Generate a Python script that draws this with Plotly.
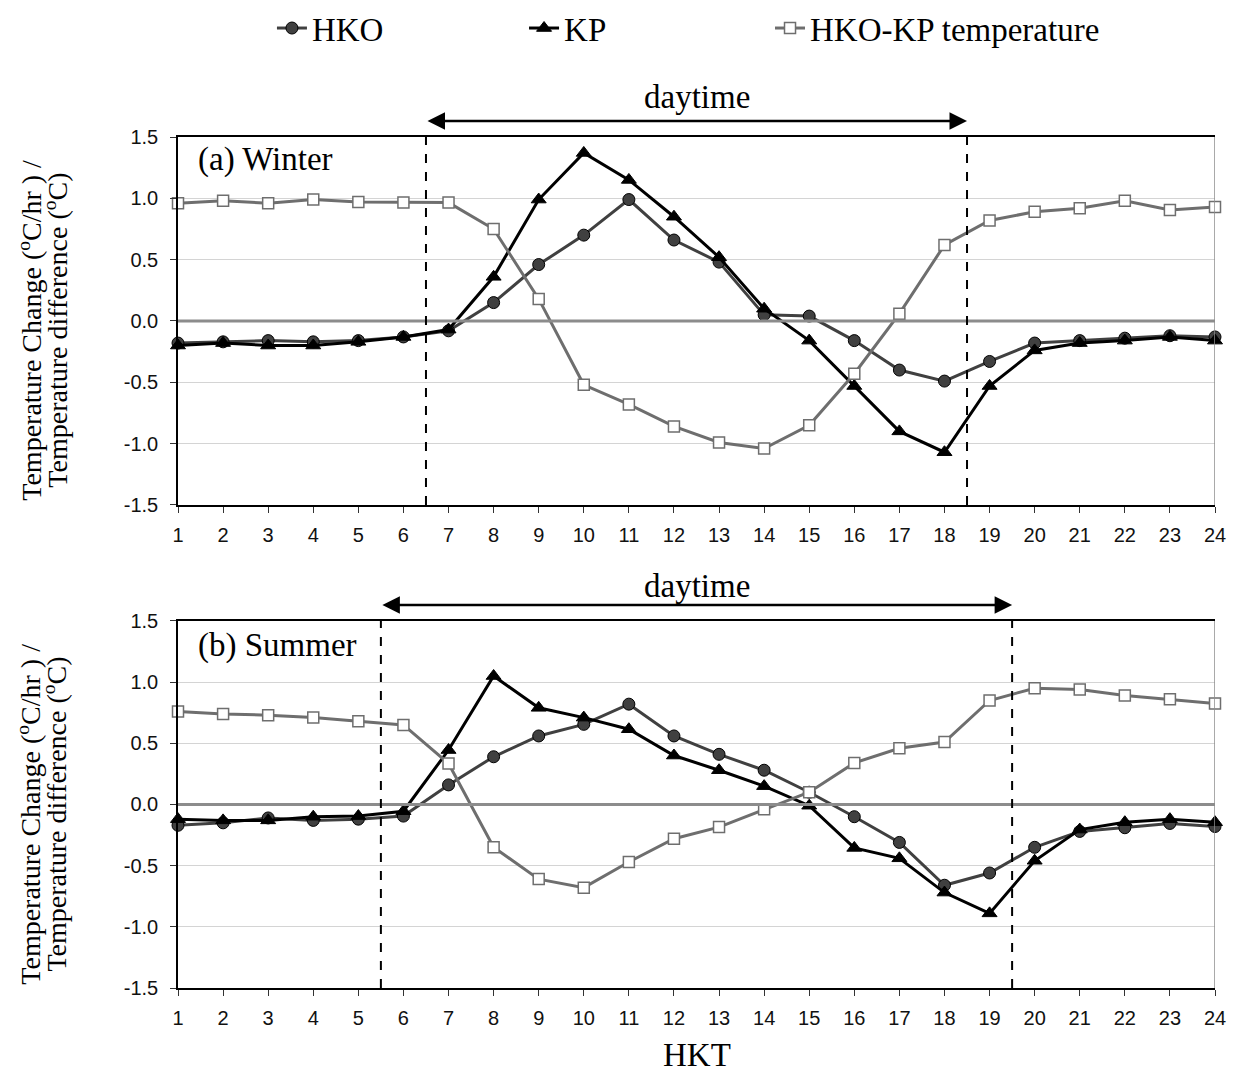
import plotly.graph_objects as go

hours = list(range(1, 25))

# Winter
hko_winter = [-0.18, -0.17, -0.16, -0.17, -0.16, -0.13, -0.08, 0.15, 0.46, 0.70, 0.99, 0.66,
              0.48, 0.05, 0.04, -0.16, -0.40, -0.49, -0.33, -0.18, -0.16, -0.14, -0.12, -0.13]
kp_winter = [-0.20, -0.18, -0.20, -0.20, -0.17, -0.13, -0.07, 0.36, 0.99, 1.37, 1.15, 0.85,
             0.52, 0.10, -0.16, -0.53, -0.90, -1.07, -0.53, -0.24, -0.18, -0.16, -0.13, -0.16]
diff_winter = [0.96, 0.98, 0.96, 0.99, 0.97, 0.965, 0.965, 0.75, 0.18, -0.52, -0.68, -0.86,
               -0.99, -1.04, -0.85, -0.43, 0.06, 0.62, 0.82, 0.89, 0.92, 0.98, 0.905, 0.93]

# Summer
hko_summer = [-0.17, -0.15, -0.11, -0.13, -0.12, -0.095, 0.16, 0.39, 0.56, 0.655, 0.82, 0.56,
              0.41, 0.28, 0.10, -0.10, -0.31, -0.66, -0.56, -0.35, -0.22, -0.19, -0.155, -0.18]
kp_summer = [-0.12, -0.13, -0.13, -0.10, -0.095, -0.055, 0.445, 1.05, 0.79, 0.71, 0.615, 0.40,
             0.28, 0.15, -0.01, -0.355, -0.44, -0.72, -0.89, -0.46, -0.205, -0.145, -0.12, -0.145]
diff_summer = [0.76, 0.74, 0.73, 0.71, 0.68, 0.65, 0.335, -0.35, -0.61, -0.68, -0.47, -0.28,
               -0.185, -0.04, 0.10, 0.34, 0.46, 0.51, 0.85, 0.95, 0.94, 0.89, 0.86, 0.825]

zero_line = [0.0] * 24

y_tickvals = [-1.5, -1.0, -0.5, 0.0, 0.5, 1.0, 1.5]
y_ticktext = ["-1.5", "-1.0", "-0.5", "0.0", "0.5", "1.0", "1.5"]

series_names = ["HKO", "KP", "HKO-KP temperature"]
panel_labels = ["(a) Winter", "(b) Summer"]
daytime_winter = [6.5, 18.5]
daytime_summer = [5.5, 19.5]

SERIF = "Liberation Serif"
SANS = "Liberation Sans"

fig = go.Figure()

def add_panel(hko, kp, diff, xa, ya, showlegend):
    fig.add_trace(go.Scatter(x=hours, y=hko, name=series_names[0], mode="lines+markers",
                             line=dict(color="#404040", width=3),
                             marker=dict(symbol="circle", size=12, color="#404040",
                                         line=dict(color="#000000", width=1)),
                             xaxis=xa, yaxis=ya, showlegend=showlegend, legend="legend",
                             cliponaxis=False))
    fig.add_trace(go.Scatter(x=hours, y=kp, name=series_names[1], mode="lines+markers",
                             line=dict(color="#000000", width=3),
                             marker=dict(symbol="triangle-up", size=13, color="#000000",
                                         line=dict(color="#000000", width=1)),
                             xaxis=xa, yaxis=ya, showlegend=showlegend, legend="legend2",
                             cliponaxis=False))
    fig.add_trace(go.Scatter(x=hours, y=diff, name=series_names[2], mode="lines+markers",
                             line=dict(color="#6e6e6e", width=3),
                             marker=dict(symbol="square", size=11, color="#ffffff",
                                         line=dict(color="#6e6e6e", width=1.5)),
                             xaxis=xa, yaxis=ya, showlegend=showlegend, legend="legend3",
                             cliponaxis=False))
    fig.add_trace(go.Scatter(x=hours, y=zero_line, mode="lines",
                             line=dict(color="#8c8c8c", width=3),
                             xaxis=xa, yaxis=ya, showlegend=False, hoverinfo="skip"))

add_panel(hko_winter, kp_winter, diff_winter, "x", "y", True)
add_panel(hko_summer, kp_summer, diff_summer, "x2", "y2", False)

xaxis_common = dict(range=[1, 24], tickvals=hours, ticktext=[str(h) for h in hours],
                    showgrid=False, zeroline=False, showline=True, linecolor="#000000",
                    linewidth=1.5, mirror=True, ticks="outside", ticklen=6, tickwidth=1,
                    tickcolor="#333333", ticklabelstandoff=5,
                    tickfont=dict(family=SANS, size=20, color="#111111"))
yaxis_common = dict(range=[-1.5, 1.5], tickvals=y_tickvals, ticktext=y_ticktext,
                    showgrid=True, gridcolor="#d4d4d4", gridwidth=1, zeroline=False,
                    showline=True, linecolor="#000000", linewidth=1.5, ticks="outside",
                    ticklen=6, tickwidth=1, tickcolor="#333333", ticklabelstandoff=8,
                    tickfont=dict(family=SANS, size=20, color="#111111"))

legend_common = dict(orientation="h", y=1.128, xanchor="left", yanchor="middle",
                     font=dict(family=SERIF, size=33, color="#000000"),
                     bgcolor="rgba(0,0,0,0)")

fig.update_layout(
    width=1233, height=1075,
    margin=dict(l=178, r=18, t=137, b=87, autoexpand=False),
    paper_bgcolor="#ffffff", plot_bgcolor="#ffffff",
    xaxis=dict(domain=[0, 1], anchor="y", **xaxis_common),
    yaxis=dict(domain=[0.5676, 1.0], anchor="x", **yaxis_common),
    xaxis2=dict(domain=[0, 1], anchor="y2", **xaxis_common),
    yaxis2=dict(domain=[0.0, 0.4313], anchor="x2", **yaxis_common),
    legend=dict(x=0.0906, **legend_common),
    legend2=dict(x=0.3337, **legend_common),
    legend3=dict(x=0.5709, **legend_common),
    showlegend=True,
)

shapes = []
annotations = []
for (xa, ya, dt, label, lab_y, arrow_y, text_y, t1_y) in [
    ("x", "y", daytime_winter, panel_labels[0], 0.973, 1.0188, 1.0470, 0.7732),
    ("x2", "y2", daytime_summer, panel_labels[1], 0.402, 0.4501, 0.4720, 0.2045),
]:
    for xv in dt:
        shapes.append(dict(type="line", xref=xa, yref=ya, x0=xv, x1=xv, y0=-1.5, y1=1.5,
                           line=dict(color="#000000", width=2, dash="dash")))
    shapes.append(dict(type="line", xref=xa, yref=ya, x0=24, x1=24, y0=-1.5, y1=1.5,
                       line=dict(color="#8c8c8c", width=1.5)))
    annotations.append(dict(xref=xa, yref="paper", x=dt[1], y=arrow_y, axref=xa, ayref="pixel",
                            ax=dt[0], ay=0, text="", showarrow=True, arrowhead=2,
                            arrowside="end+start", arrowsize=1.4, arrowwidth=2.5,
                            arrowcolor="#000000", standoff=0, startstandoff=0))
    annotations.append(dict(xref=xa, yref="paper", x=(dt[0] + dt[1]) / 2, y=text_y,
                            text="daytime", showarrow=False,
                            font=dict(family=SERIF, size=33, color="#000000"),
                            xanchor="center", yanchor="middle"))
    annotations.append(dict(xref="paper", yref="paper", x=0.0174, y=lab_y, text=label,
                            showarrow=False, xanchor="left", yanchor="middle",
                            font=dict(family=SERIF, size=33, color="#000000")))
    annotations.append(dict(xref="paper", yref="paper", x=-0.1430, y=t1_y,
                            text="Temperature Change (<sup>o</sup>C/hr ) /", textangle=-90,
                            showarrow=False, xanchor="center", yanchor="middle",
                            font=dict(family=SERIF, size=28, color="#000000")))
    annotations.append(dict(xref="paper", yref="paper", x=-0.1180, y=t1_y,
                            text="Temperature difference (<sup>o</sup>C)", textangle=-90,
                            showarrow=False, xanchor="center", yanchor="middle",
                            font=dict(family=SERIF, size=28, color="#000000")))

annotations.append(dict(xref="paper", yref="paper", x=0.5, y=-0.0787, text="HKT",
                        showarrow=False, xanchor="center", yanchor="middle",
                        font=dict(family=SERIF, size=33, color="#000000")))

fig.update_layout(shapes=shapes, annotations=annotations)

fig.write_html("out.html")
